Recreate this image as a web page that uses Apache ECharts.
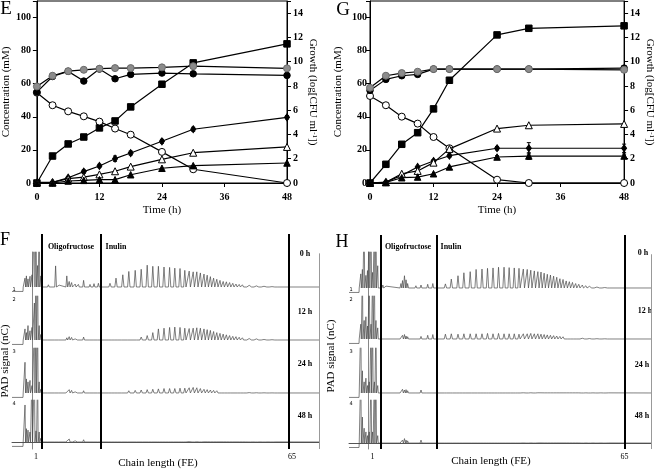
<!DOCTYPE html>
<html><head><meta charset="utf-8">
<script src="https://cdn.jsdelivr.net/npm/echarts@6/dist/echarts.min.js"></script>
<style>html,body{margin:0;padding:0;background:#fff}#c{width:656px;height:469px}</style>
</head><body><div id="c"></div>
<script>
// ---------------- DATA: growth / metabolite panels ----------------
const timeE = [0, 3, 6, 9, 12, 15, 18, 24, 30, 48];
const timeG = [0, 3, 6, 9, 12, 15, 24, 30, 48];

const squaresE    = [0, 16.3, 23.6, 27.8, 33.3, 37.5, 46.0, 59.7, 72.6, 84.1];
const openCircE   = [54.6, 47.0, 43.3, 40.3, 37.1, 32.9, 29.2, 18.8, 8.3, 0];
const diamondsE   = [0, 0.4, 3.2, 6.9, 10.3, 14.7, 18.1, 25.2, 32.5, 39.7];
const diamondsErrE = [0, 0, 0.6, 1.0, 1.0, 1.6, 1.2, 1.2, 1.2, 1.0];
const openTriE    = [0.4, 0.4, 2.6, 3.6, 5.2, 7.1, 9.9, 14.3, 18.3, 21.8];
const trianglesE  = [0, 0, 1.2, 1.6, 2.0, 2.0, 5.0, 8.9, 10.5, 12.1];
const grayCircE   = [7.96, 8.84, 9.22, 9.33, 9.42, 9.47, 9.47, 9.53, 9.63, 9.45];
const blackCircE  = [7.49, 8.78, 9.20, 8.40, 9.39, 8.59, 8.95, 9.06, 9.00, 8.87];

const squaresG    = [0, 11.3, 23.4, 30.4, 44.8, 62.1, 89.5, 93.5, 95.0];
const openCircG   = [52.6, 47.0, 40.1, 35.9, 27.8, 21.0, 2.0, 0, 0];
const diamondsG   = [0, 0.6, 4.6, 9.7, 13.3, 16.5, 21.0, 21.0, 21.0];
const diamondsErrG = [0, 0, 0, 0, 0.8, 1.0, 1.0, 3.4, 2.5];
const openTriG    = [0, 0.4, 5.6, 7.3, 12.3, 20.6, 32.9, 34.9, 35.7];
const trianglesG  = [0, 0.4, 3.2, 3.6, 5.6, 9.7, 15.7, 16.3, 16.3];
const trianglesErrG = [0, 0, 0, 0, 0, 0, 0.8, 2.0, 1.2];
const grayCircG   = [7.85, 8.84, 9.06, 9.17, 9.39, 9.39, 9.39, 9.39, 9.33];
const blackCircG  = [7.63, 8.54, 8.84, 8.95, 9.39, 9.39, 9.39, 9.39, 9.47];

// ---------------- DATA: chromatograms (chain length units) ----------------
const chainTicks = [1, 65];
const boundsF = [2.5, 17.25, 64.25];
const boundsH = [3.0, 17.3, 65.0];
const hourLabels = ['0 h', '12 h', '24 h', '48 h'];
const injectF = -2.2, injectH = -2.4, preInjectLevel = -0.12;

const earlyPosF = [-1.75, -1.4, -1.0, -0.5, 0.0, 0.6, 1.0, 1.4, 1.8, 2.2];
const earlyF0  = [0.24, 0.30, 0.22, 0.29, 0.33, 2, 2, 0.58, 2, 0.30];
const earlyF12 = [0.30, 0.20, 0.39, 0.25, 0.34, 1.0, 2, 2, 0.39, 0.15];
const earlyF24 = [0.83, 0.38, 0.30, 0.34, 0.20, 2, 2, 2, 0.30, 0.10];
const earlyF48 = [1.0, 0.36, 0.32, 0.27, 2, 2, 0.30, 2, 0.27, 0.10];

const earlyPosH = [-2.0, -1.6, -1.15, -0.7, -0.3, 0.15, 0.6, 1.0, 1.45, 1.85, 2.3];
const earlyH0  = [0.38, 0.50, 2, 0.34, 0.47, 2, 2, 0.42, 2, 2, 0.60];
const earlyH12 = [0.40, 2, 0.50, 0.60, 0.35, 2, 0.40, 2, 2, 0.50, 0.30];
const earlyH24 = [2, 0.60, 0.30, 0.40, 0.20, 0.30, 2, 2, 0.30, 2, 0.20];
const earlyH48 = [2, 0.70, 0.40, 0.30, 0.20, 0.30, 2, 0.30, 2, 2, 0.20];

const oligoPosF = [4.1, 5.9, 6.8, 8.7, 9.3, 9.9, 10.8, 11.6, 12.9, 14.5, 15.5, 16.6];
const oligoF0  = [0.06, 0.57, 0.05, 0.30, 0.15, 0.12, 0.08, 0.07, 0.18, 0.07, 0.09, 0.10];
const oligoF12 = [0.02, 0.02, 0.02, 0.06, 0.09, 0.07, 0.03, 0.02, 0.08, 0.02, 0.01, 0.01];
const oligoF24 = [0.01, 0.01, 0.01, 0.05, 0.09, 0.07, 0.03, 0.02, 0.06, 0.01, 0.01, 0.01];
const oligoF48 = [0.01, 0.01, 0.01, 0.05, 0.08, 0.05, 0.03, 0.02, 0.06, 0.01, 0.01, 0.01];

const oligoPosH = [3.6, 4.4, 8.2, 8.6, 9.1, 9.5, 9.9, 12.0, 13.3, 15.0, 16.3];
const oligoH0  = [0.08, 0.05, 0.12, 0.20, 0.33, 0.22, 0.12, 0.06, 0.08, 0.10, 0.12];
const oligoH12 = [0.03, 0.02, 0.05, 0.10, 0.12, 0.08, 0.06, 0.05, 0.07, 0.10, 0.12];
const oligoH24 = [0.01, 0.01, 0.03, 0.10, 0.08, 0.09, 0.06, 0.03, 0.08, 0.01, 0.01];
const oligoH48 = [0.01, 0.01, 0.03, 0.08, 0.12, 0.08, 0.06, 0.03, 0.08, 0.01, 0.01];

const inulinPos = [19.5, 21.0, 22.7, 24.2, 25.8, 27.3, 28.8, 30.2, 31.6, 33.0, 34.4, 35.7, 37.0, 38.2, 39.3, 40.3, 41.2, 42.1, 43.0, 43.8,
                   44.6, 45.4, 46.2, 47.0, 47.8, 48.6, 49.4, 50.2, 51.0, 51.8, 52.6, 53.4, 54.3, 55.2, 56.1, 57.0, 58.0, 59.0, 60.0, 61.0];
const inulinF0  = [0.10, 0.24, 0.33, 0.42, 0.45, 0.48, 0.59, 0.56, 0.56, 0.54, 0.53, 0.51, 0.50, 0.45, 0.43, 0.41, 0.41, 0.38, 0.35, 0.32,
                   0.28, 0.24, 0.21, 0.18, 0.15, 0.14, 0.12, 0.10, 0.08, 0.07, 0.06, 0.05, 0.045, 0.035, 0.03, 0.025, 0.02, 0.015, 0.01, 0.008];
const inulinF12 = [0.00, 0.02, 0.03, 0.05, 0.04, 0.08, 0.12, 0.20, 0.30, 0.32, 0.34, 0.35, 0.34, 0.32, 0.31, 0.32, 0.33, 0.32, 0.30, 0.28,
                   0.26, 0.23, 0.20, 0.18, 0.16, 0.14, 0.12, 0.10, 0.09, 0.075, 0.06, 0.05, 0.04, 0.035, 0.03, 0.02, 0.015, 0.01, 0.008, 0.005];
const inulinF24 = [0.02, 0.03, 0.05, 0.06, 0.07, 0.08, 0.09, 0.10, 0.11, 0.12, 0.12, 0.12, 0.13, 0.13, 0.14, 0.15, 0.14, 0.12, 0.10, 0.09,
                   0.08, 0.07, 0.06, 0.05, 0.045, 0.04, 0.035, 0.03, 0.025, 0.02, 0.015, 0.01, 0.01, 0.008, 0.006, 0.005, 0.004, 0.003, 0.002, 0.002];
const inulinF48 = [0.004, 0.004, 0.005, 0.005, 0.004, 0.006, 0.005, 0.004, 0.006, 0.005, 0.004, 0.005, 0.006, 0.008, 0.01, 0.008, 0.006, 0.005, 0.004, 0.004,
                   0.003, 0.003, 0.003, 0.003, 0.003, 0.003, 0.002, 0.002, 0.002, 0.002, 0.002, 0.002, 0.002, 0.002, 0.002, 0.002, 0.002, 0.002, 0.002, 0.002];
const inulinH0  = [0.11, 0.24, 0.33, 0.41, 0.44, 0.50, 0.51, 0.53, 0.54, 0.56, 0.56, 0.55, 0.54, 0.53, 0.51, 0.50, 0.48, 0.46, 0.44, 0.43,
                   0.40, 0.37, 0.35, 0.32, 0.29, 0.25, 0.23, 0.19, 0.17, 0.15, 0.12, 0.10, 0.08, 0.06, 0.045, 0.035, 0.025, 0.018, 0.012, 0.008];
const inulinH12 = [0.13, 0.14, 0.13, 0.14, 0.14, 0.14, 0.14, 0.15, 0.14, 0.15, 0.14, 0.14, 0.14, 0.13, 0.14, 0.14, 0.15, 0.14, 0.14, 0.13,
                   0.12, 0.11, 0.10, 0.09, 0.08, 0.07, 0.06, 0.05, 0.04, 0.035, 0.03, 0.025, 0.02, 0.015, 0.012, 0.01, 0.008, 0.006, 0.005, 0.004];
const inulinH24 = [0.004, 0.004, 0.005, 0.004, 0.005, 0.004, 0.005, 0.004, 0.005, 0.004, 0.005, 0.004, 0.005, 0.004, 0.005, 0.004, 0.005, 0.004, 0.005, 0.004,
                   0.003, 0.003, 0.003, 0.003, 0.003, 0.003, 0.003, 0.003, 0.003, 0.003, 0.003, 0.003, 0.003, 0.003, 0.003, 0.003, 0.003, 0.003, 0.003, 0.003];
const inulinH48 = [0.004, 0.005, 0.004, 0.005, 0.004, 0.005, 0.004, 0.005, 0.004, 0.005, 0.004, 0.005, 0.004, 0.005, 0.004, 0.005, 0.004, 0.005, 0.004, 0.005,
                   0.003, 0.003, 0.003, 0.003, 0.003, 0.003, 0.003, 0.003, 0.003, 0.003, 0.003, 0.003, 0.003, 0.003, 0.003, 0.003, 0.003, 0.003, 0.003, 0.003];

// ---------------- LAYOUT / STYLE ----------------
const SERIF = 'Liberation Serif';
const chainMin = -5, chainMaxF = 71.75, chainMaxH = 71.75;
const panelF = { left: 12, width: 307, overlayTop: 234, overlayH: 215 };
const panelH = { left: 349, width: 302, overlayTop: 235, overlayH: 214 };
const rowsF = [ {top:252,h:44,max:0.946,min:-0.243}, {top:296,h:52,max:1.19,min:-0.216}, {top:348,h:52,max:1.216,min:-0.19}, {top:400,h:49,max:1.135,min:-0.19} ];
const rowsH = [ {top:252,h:44,max:0.97,min:-0.216}, {top:296,h:52,max:1.16,min:-0.243}, {top:348,h:52,max:1.216,min:-0.19}, {top:400,h:49,max:1.16,min:-0.16} ];
const widths = { early: 0.14, oligo: 0.22, inulin: 0.3 };

function buildTrace(inject, groups, xMax) {
  const peaks = [];
  groups.forEach(g => g.pos.forEach((p, i) => peaks.push([p, g.h[i], g.w])));
  peaks.sort((a, b) => a[0] - b[0]);
  const pts = [[chainMin, preInjectLevel], [inject - 0.05, preInjectLevel], [inject, 0]];
  peaks.forEach(([p, h, w]) => { pts.push([p - w, 0], [p, h], [p + w, 0]); });
  pts.push([xMax, 0]);
  return pts;
}

const tracesF = [
  buildTrace(injectF, [{pos:earlyPosF,h:earlyF0,w:widths.early},{pos:oligoPosF,h:oligoF0,w:widths.oligo},{pos:inulinPos,h:inulinF0,w:widths.inulin}], chainMaxF),
  buildTrace(injectF, [{pos:earlyPosF,h:earlyF12,w:widths.early},{pos:oligoPosF,h:oligoF12,w:widths.oligo},{pos:inulinPos,h:inulinF12,w:widths.inulin}], chainMaxF),
  buildTrace(injectF, [{pos:earlyPosF,h:earlyF24,w:widths.early},{pos:oligoPosF,h:oligoF24,w:widths.oligo},{pos:inulinPos,h:inulinF24,w:widths.inulin}], chainMaxF),
  buildTrace(injectF, [{pos:earlyPosF,h:earlyF48,w:widths.early},{pos:oligoPosF,h:oligoF48,w:widths.oligo},{pos:inulinPos,h:inulinF48,w:widths.inulin}], chainMaxF)
];
const tracesH = [
  buildTrace(injectH, [{pos:earlyPosH,h:earlyH0,w:widths.early},{pos:oligoPosH,h:oligoH0,w:widths.oligo},{pos:inulinPos,h:inulinH0,w:widths.inulin}], chainMaxH),
  buildTrace(injectH, [{pos:earlyPosH,h:earlyH12,w:widths.early},{pos:oligoPosH,h:oligoH12,w:widths.oligo},{pos:inulinPos,h:inulinH12,w:widths.inulin}], chainMaxH),
  buildTrace(injectH, [{pos:earlyPosH,h:earlyH24,w:widths.early},{pos:oligoPosH,h:oligoH24,w:widths.oligo},{pos:inulinPos,h:inulinH24,w:widths.inulin}], chainMaxH),
  buildTrace(injectH, [{pos:earlyPosH,h:earlyH48,w:widths.early},{pos:oligoPosH,h:oligoH48,w:widths.oligo},{pos:inulinPos,h:inulinH48,w:widths.inulin}], chainMaxH)
];

// ---------------- OPTION ----------------
const grid = [], xAxis = [], yAxis = [], series = [];
const black = '#000';
const tickLbl = { fontFamily: SERIF, fontWeight: 'bold', fontSize: 10, color: black };

grid.push({ left: 33, right: 369, top: 1, bottom: 286, show: true, borderColor: black, borderWidth: 1 });
grid.push({ left: 370, right: 31, top: 1, bottom: 286, show: true, borderColor: black, borderWidth: 1 });
[0, 1].forEach(g => {
  xAxis.push({ gridIndex: g, type: 'value', min: 0, max: 48, interval: 12,
    axisLine: { lineStyle: { color: black, width: 1 } }, axisTick: { length: 4, lineStyle: { color: black } },
    axisLabel: Object.assign({ margin: 9 }, tickLbl), splitLine: { show: false },
    name: 'Time (h)', nameLocation: 'middle', nameGap: 22, nameTextStyle: { fontFamily: SERIF, fontSize: 11, color: black } });
});
function yLeft(g, gap, margin) {
  return { gridIndex: g, type: 'value', min: 0, max: 110, interval: 20, position: 'left',
    axisLine: { show: true, lineStyle: { color: black } }, axisTick: { show: true, length: 4, lineStyle: { color: black } },
    axisLabel: Object.assign({ margin: margin, formatter: v => (v > 100 ? '' : v) }, tickLbl), splitLine: { show: false },
    name: 'Concentration (mM)', nameLocation: 'middle', nameGap: gap, nameRotate: 90,
    nameTextStyle: { fontFamily: SERIF, fontSize: 11, color: black } };
}
function yRight(g, gap) {
  return { gridIndex: g, type: 'value', min: 0, max: 15, interval: 2, position: 'right',
    axisLine: { show: true, lineStyle: { color: black } }, axisTick: { show: true, length: 4, lineStyle: { color: black } },
    axisLabel: Object.assign({ margin: 6, formatter: v => (v > 14 ? '' : v) }, tickLbl), splitLine: { show: false },
    name: 'Growth (log[CFU ml{s|-1}])', nameLocation: 'middle', nameGap: gap, nameRotate: -90,
    nameTextStyle: { fontFamily: SERIF, fontSize: 11, color: black, rich: { s: { fontFamily: SERIF, fontSize: 7, verticalAlign: 'top', color: black } } } };
}
yAxis.push(yLeft(0, 23, 6), yRight(0, 15), yLeft(1, 26, 3), yRight(1, 16));

function mk(xi, yi, xs, ys, symbol, size, fill, z) {
  return { type: 'line', xAxisIndex: xi, yAxisIndex: yi, data: xs.map((x, i) => [x, ys[i]]),
    symbol: symbol, symbolSize: size, showSymbol: true, z: z,
    itemStyle: { color: fill, borderColor: fill === '#8c8c8c' ? '#6a6a6a' : black, borderWidth: 1 },
    lineStyle: { color: black, width: 1.2 }, animation: false };
}
function errBars(xi, yi, xs, ys, errs) {
  return { type: 'custom', xAxisIndex: xi, yAxisIndex: yi, z: 4, animation: false, silent: true,
    data: xs.map((x, i) => [x, ys[i], errs[i]]).filter(d => d[2] > 0),
    renderItem: (params, api) => {
      const x = api.value(0), y = api.value(1), e = api.value(2);
      const hi = api.coord([x, y + e]), lo = api.coord([x, y - e]);
      const st = { stroke: black, lineWidth: 1 };
      return { type: 'group', children: [
        { type: 'line', shape: { x1: hi[0], y1: hi[1], x2: lo[0], y2: lo[1] }, style: st },
        { type: 'line', shape: { x1: hi[0] - 2, y1: hi[1], x2: hi[0] + 2, y2: hi[1] }, style: st },
        { type: 'line', shape: { x1: lo[0] - 2, y1: lo[1], x2: lo[0] + 2, y2: lo[1] }, style: st } ] };
    } };
}
[[0, 0, 1, timeE, [squaresE, openCircE, diamondsE, openTriE, trianglesE, blackCircE, grayCircE]],
 [1, 2, 3, timeG, [squaresG, openCircG, diamondsG, openTriG, trianglesG, blackCircG, grayCircG]]].forEach(([xi, yl, yr, t, s]) => {
  series.push(mk(xi, yl, t, s[0], 'rect', 6.5, black, 3));
  series.push(mk(xi, yl, t, s[1], 'circle', 7, '#fff', 4));
  series.push(mk(xi, yl, t, s[2], 'diamond', [5, 7], black, 5));
  series.push(mk(xi, yl, t, s[3], 'triangle', 7, '#fff', 6));
  series.push(mk(xi, yl, t, s[4], 'triangle', 6.5, black, 6));
  series.push(mk(xi, yr, t, s[5], 'circle', 6.5, black, 7));
  series.push(mk(xi, yr, t, s[6], 'circle', 7, '#8c8c8c', 8));
});
series.push(errBars(0, 0, timeE, diamondsE, diamondsErrE));
series.push(errBars(1, 2, timeG, diamondsG, diamondsErrG));
series.push(errBars(1, 2, timeG, trianglesG, trianglesErrG));

function addPanel(panel, rows, traces, xMax, bounds) {
  rows.forEach((r, k) => {
    const gi = grid.length;
    grid.push({ left: panel.left, width: panel.width, top: r.top, height: r.h });
    const last = k === rows.length - 1;
    xAxis.push({ gridIndex: gi, type: 'value', min: chainMin, max: xMax, show: last,
      axisLine: { show: last, lineStyle: { color: '#555', width: 1 } }, axisTick: { show: false },
      axisLabel: { show: last, customValues: chainTicks, fontFamily: SERIF, fontSize: 8, color: black, margin: 4 },
      splitLine: { show: false } });
    yAxis.push({ gridIndex: gi, type: 'value', min: r.min, max: r.max, position: 'left',
      axisLine: { show: true, lineStyle: { color: '#888', width: 1 } }, axisTick: { show: false }, axisLabel: { show: false }, splitLine: { show: false } });
    series.push({ type: 'line', xAxisIndex: xAxis.length - 1, yAxisIndex: yAxis.length - 1, data: traces[k],
      showSymbol: false, symbol: 'none', clip: true, lineStyle: { color: '#4a4a4a', width: 0.7 }, animation: false, z: 2 });
  });
  const gi = grid.length;
  grid.push({ left: panel.left, width: panel.width, top: panel.overlayTop, height: panel.overlayH });
  xAxis.push({ gridIndex: gi, type: 'value', min: chainMin, max: xMax, show: false });
  yAxis.push({ gridIndex: gi, type: 'value', min: 0, max: 1, show: false });
  series.push({ type: 'line', xAxisIndex: xAxis.length - 1, yAxisIndex: yAxis.length - 1, data: [], animation: false, z: 5,
    markLine: { silent: true, symbol: 'none', animation: false, label: { show: false },
      data: bounds.map(b => ({ xAxis: b, lineStyle: { color: black, width: 2, type: 'solid' } }))
        .concat([[{ coord: [xMax, 0], lineStyle: { color: '#999', width: 1, type: 'solid' } }, { coord: [xMax, 0.91] }]]) } });
}
addPanel(panelF, rowsF, tracesF, chainMaxF, boundsF);
addPanel(panelH, rowsH, tracesH, chainMaxH, boundsH);

const T = (x, y, text, font, extra) => Object.assign({ type: 'text', x: x, y: y, silent: true,
  style: { text: text, font: font, fill: black, textAlign: 'center', textVerticalAlign: 'middle' } }, extra || {});
const bold8 = 'bold 8px "Liberation Serif"';
const graphic = [
  T(6, 9, 'E', '19px "Liberation Serif"'),
  T(343, 10, 'G', '19px "Liberation Serif"'),
  T(5, 240, 'F', '18px "Liberation Serif"'),
  T(342, 242, 'H', '18px "Liberation Serif"'),
  T(71, 247, 'Oligofructose', bold8), T(116, 247, 'Inulin', bold8),
  T(408, 247, 'Oligofructose', bold8), T(451, 247, 'Inulin', bold8),
  T(305, 254, hourLabels[0], bold8), T(305, 312, hourLabels[1], bold8), T(305, 364, hourLabels[2], bold8), T(305, 416, hourLabels[3], bold8),
  T(643, 253, hourLabels[0], bold8), T(645, 311, hourLabels[1], bold8), T(642, 365, hourLabels[2], bold8), T(642, 416, hourLabels[3], bold8),
  T(158, 463, 'Chain length (FE)', '11px "Liberation Serif"'),
  T(491, 461, 'Chain length (FE)', '11px "Liberation Serif"'),
  T(5, 361, 'PAD signal (nC)', '11px "Liberation Serif"', { rotation: Math.PI / 2 }),
  T(331, 356, 'PAD signal (nC)', '11px "Liberation Serif"', { rotation: Math.PI / 2 })
];
['1', '2', '3', '4'].forEach((n, k) => {
  graphic.push(T(14, rowsF[k].top + (k === 0 ? 38 : 4), n, '5px "DejaVu Sans"'));
  graphic.push(T(351, rowsH[k].top + (k === 0 ? 38 : 4), n, '5px "DejaVu Sans"'));
});

const chart = echarts.init(document.getElementById('c'), null, { renderer: 'canvas' });
chart.setOption({ animation: false, backgroundColor: '#fff', grid, xAxis, yAxis, series, graphic });
</script></body></html>
